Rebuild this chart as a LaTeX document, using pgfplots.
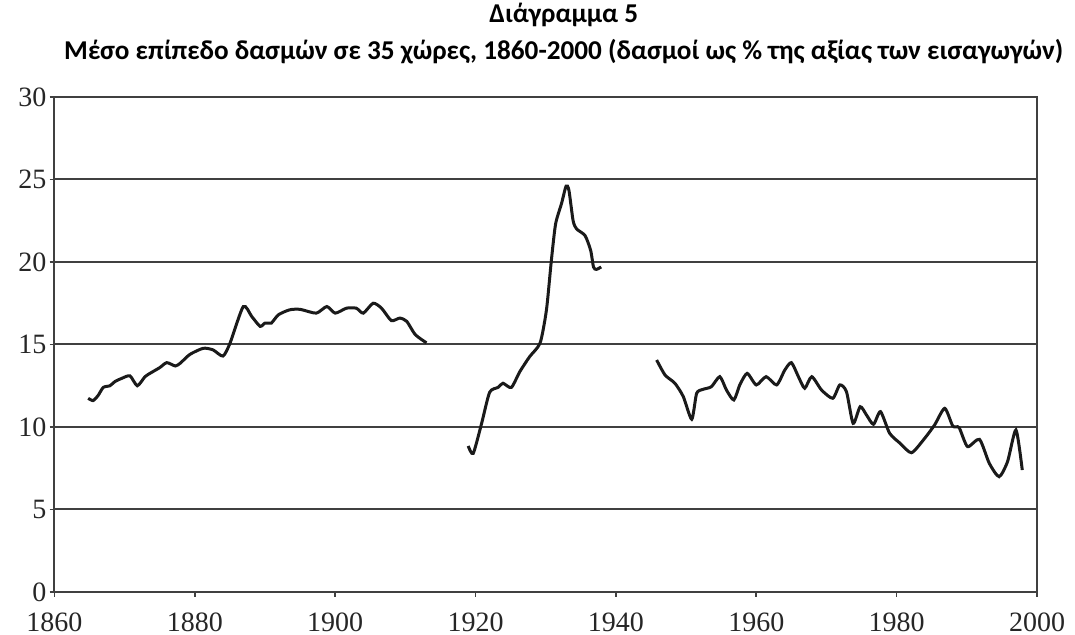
\documentclass[border=0pt]{standalone}
\usepackage{pgfplots}
\pgfplotsset{compat=1.18}
\usepackage{fontspec}
\setmainfont{Liberation Serif}
\newfontfamily\titlefont{Carlito}
\definecolor{gridc}{HTML}{404040}
\definecolor{linec}{HTML}{1A1A1A}
\begin{document}
\begin{tikzpicture}
\useasboundingbox (-27.25pt,-21.5pt) rectangle (510.25pt,296pt);
\begin{axis}[
  scale only axis,
  width=491.25pt, height=247.5pt,
  xmin=1860, xmax=2000, ymin=0, ymax=30,
  xtick={1860,1880,...,2000},
  ytick={0,5,...,30},
  ymajorgrids,
  grid style={gridc, line width=1pt},
  axis line style={gridc, line width=1pt},
  tick style={gridc, line width=0.8pt},
  tick align=outside,
  major tick length=2.5pt,
  tick pos=left,
  /pgf/number format/assume math mode=true,
  /pgf/number format/1000 sep={},
  ticklabel style={font=\fontsize{14}{16}\selectfont, text=black!85},
  xticklabel style={yshift=-4.5pt},
  yticklabel style={xshift=2pt},
  title style={at={(0.5,1)}, anchor=south, xshift=9pt, yshift=7pt, align=center,
    font=\titlefont\bfseries\fontsize{13.6}{18.5}\selectfont},
  title={Διάγραμμα 5\\Μέσο επίπεδο δασμών σε 35 χώρες, 1860-2000 (δασμοί ως \% της αξίας των εισαγωγών)},
]
\addplot[linec, line width=1.5pt, smooth, tension=0.4] coordinates {
(1864.8,11.74) (1865.5,11.6) (1866.2,11.9) (1866.95,12.4) (1867.9,12.5) (1868.6,12.75)
(1869.6,12.95) (1870.75,13.1) (1871.8,12.5) (1872.9,13.05) (1873.8,13.3) (1875.0,13.6)
(1876.0,13.9) (1877.2,13.7) (1877.9,13.86) (1879.3,14.4) (1881.2,14.77) (1882.6,14.67)
(1884.0,14.3) (1885.0,15.07) (1886.9,17.3) (1888.1,16.7) (1889.3,16.1) (1890.0,16.3)
(1890.9,16.3) (1891.9,16.8) (1893.5,17.1) (1895.0,17.13) (1897.3,16.9) (1898.8,17.3)
(1900.0,16.9) (1901.6,17.2) (1903.0,17.2) (1904.0,16.9) (1905.4,17.5) (1906.6,17.2)
(1908.0,16.45) (1909.2,16.6) (1910.2,16.4) (1911.4,15.6) (1913.0,15.1)
};
\addplot[linec, line width=1.5pt, smooth, tension=0.4] coordinates {
(1918.95,8.85) (1919.66,8.4) (1920.85,10.2) (1922.0,12.1) (1923.2,12.4) (1923.9,12.65)
(1925.1,12.4) (1926.3,13.35) (1927.7,14.26) (1929.2,15.1) (1930.1,17.1) (1930.8,20.1)
(1931.4,22.3) (1932.25,23.55) (1932.9,24.6) (1933.3,24.35) (1933.9,22.5) (1934.4,22.0)
(1935.6,21.6) (1936.4,20.7) (1936.8,19.7) (1937.2,19.55) (1937.9,19.7)
};
\addplot[linec, line width=1.5pt, smooth, tension=0.4] coordinates {
(1945.8,14.06) (1947.0,13.15) (1948.4,12.65) (1949.6,11.84) (1950.8,10.47) (1951.5,12.04)
(1952.4,12.28) (1953.6,12.44) (1954.8,13.05) (1955.75,12.24) (1956.8,11.64) (1957.65,12.55)
(1958.7,13.25) (1960.0,12.55) (1961.4,13.05) (1962.9,12.55) (1964.06,13.45) (1965.0,13.9)
(1966.0,13.05) (1966.9,12.35) (1967.9,13.05) (1969.3,12.24) (1970.9,11.74) (1971.9,12.55)
(1972.85,12.14) (1973.8,10.22) (1974.8,11.23) (1975.7,10.73) (1976.7,10.16) (1977.7,10.93)
(1979.0,9.62) (1980.5,9.01) (1982.1,8.44) (1983.8,9.21) (1985.4,10.12) (1986.85,11.13)
(1988.0,10.06) (1988.9,9.96) (1990.1,8.81) (1991.8,9.25) (1993.2,7.8) (1994.6,6.99)
(1995.8,7.9) (1997.0,9.82) (1997.9,7.39)
};
\end{axis}
\end{tikzpicture}
\end{document}
